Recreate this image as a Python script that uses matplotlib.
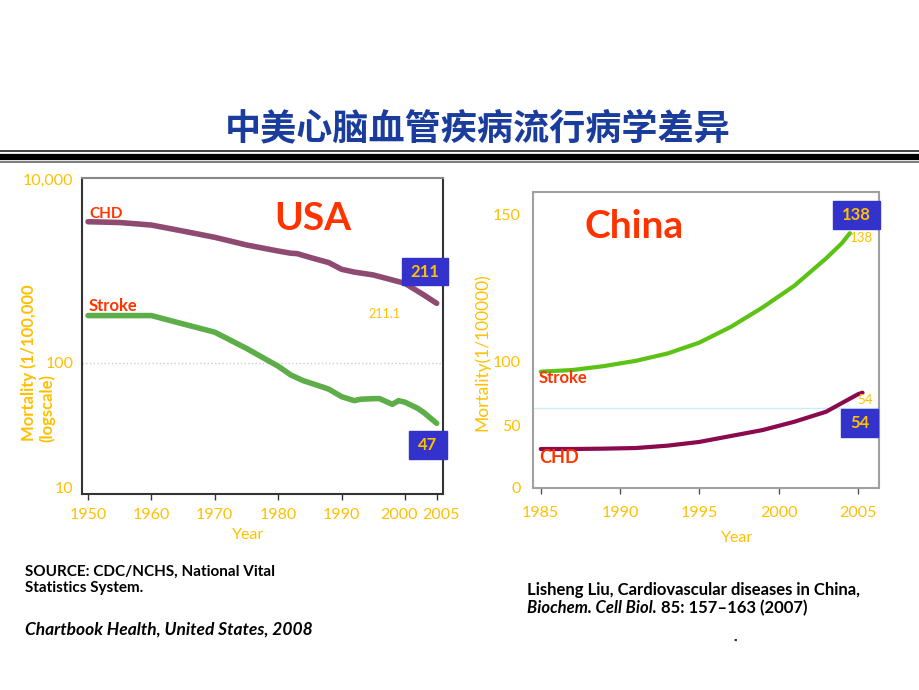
import numpy as np
import matplotlib
matplotlib.use('Agg')
import matplotlib.pyplot as plt
from matplotlib.patches import Rectangle
from matplotlib.transforms import ScaledTranslation

plt.rcParams['font.family'] = ['Lato', 'DejaVu Sans']

# ---- data ----
usa_years = [1950, 1955, 1960, 1965, 1970, 1975, 1980, 1982, 1983, 1985, 1988,
             1990, 1992, 1995, 2000, 2003, 2005]
usa_chd = [586, 580, 562, 521, 482, 438, 406, 395, 393, 375, 351,
           323, 312, 301, 271, 234, 211]
usa_stroke_years = [1950, 1955, 1960, 1965, 1970, 1975, 1980, 1982, 1984, 1985,
                    1987, 1988, 1990, 1992, 1993, 1995, 1996, 1998, 1999, 2000,
                    2002, 2003, 2005]
usa_stroke = [181, 181, 181, 163, 147, 120, 96, 86, 80, 78,
              74, 72, 65.6, 62.4, 63.5, 64, 64, 59.6, 62.4, 61.2,
              56.7, 53.7, 47]
usa_xticks = [1950, 1960, 1970, 1980, 1990, 2000, 2005]

cn_stroke_years = [1985, 1987, 1989, 1991, 1993, 1995, 1997, 1999, 2001, 2003, 2004, 2004.5]
cn_stroke = [92.2, 93.5, 96.6, 100.3, 102.8, 106.5, 111.9, 118.5, 125.9, 135.2, 140.4, 143.8]
cn_chd_years = [1985, 1987, 1989, 1991, 1993, 1995, 1997, 1999, 2001, 2003, 2005, 2005.3]
cn_chd = [31.2, 31.2, 31.5, 32.0, 33.9, 36.9, 41.7, 46.5, 53.1, 60.9, 74.5, 75.8]
cn_xticks = [1985, 1990, 1995, 2000, 2005]
cn_yticks = [0, 50, 100, 150]

W, H = 920, 690
GOLD = '#FFC000'
RED = '#FF3300'
BOXBLUE = '#3333CC'

fig = plt.figure(figsize=(W / 100, H / 100), dpi=100)


def px(x, y):
    return x / W, 1 - y / H


def axes_px(x0, y0, x1, y1):
    return fig.add_axes([x0 / W, 1 - y1 / H, (x1 - x0) / W, (y1 - y0) / H])


def box(x0, y0, x1, y1, txt):
    fig.patches.append(Rectangle(px(x0, y1), (x1 - x0) / W, (y1 - y0) / H,
                                 transform=fig.transFigure, color=BOXBLUE, zorder=5))
    fig.text((x0 + x1) / 2 / W, 1 - (y0 + y1) / 2 / H, txt, color=GOLD,
             fontsize=12, fontweight='bold', ha='center', va='center', zorder=6)


# title + separator
fig.text(*px(478, 129), '中美心脑血管疾病流行病学差异', family=['Noto Sans CJK SC', 'DejaVu Sans'],
         fontsize=26, fontweight='bold', color='#1A3C9C', ha='center', va='center')
for yy, lw, c in [(151, 1.2, '#222222'), (156.5, 4.5, '#000000'), (162, 1.2, '#666666')]:
    fig.add_artist(plt.Line2D([0, 1], [1 - yy / H] * 2, lw=lw, color=c, transform=fig.transFigure))

# ---- USA (log scale) ----
ax1 = axes_px(81.7, 178.3, 443, 494)
ax1.set_yscale('log')
ax1.plot(usa_years, usa_chd, color='#8E4A70', lw=4, solid_capstyle='round', zorder=3)
ax1.plot(usa_stroke_years, usa_stroke, color='#5DAE48', lw=4, solid_capstyle='round', zorder=3)
ax1.set_xlim(1949, 2006)
ax1.set_ylim(19.4, 1009)
ax1.axhline(100, color='#CCCCCC', lw=1, ls=':', zorder=1)
ax1.set_yticks([21, 100, 1000])
ax1.set_yticklabels(['10', '100', '10,000'])
ax1.yaxis.set_minor_locator(matplotlib.ticker.NullLocator())
ax1.set_xticks(usa_xticks)
ax1.tick_params(axis='y', length=0, pad=6, labelsize=11.5, labelcolor=GOLD)
ax1.tick_params(axis='x', length=4, width=1, color='#333333', pad=6, labelsize=11.5, labelcolor=GOLD)
for s in ax1.spines.values():
    s.set_color('#333333')
    s.set_linewidth(1.5)
ax1.spines['top'].set_color('#888888')
# nudge the two crowded year labels apart as in the original
xl = ax1.get_xticklabels()
xl[-2].set_transform(xl[-2].get_transform() + ScaledTranslation(-6 / 100, 0, fig.dpi_scale_trans))
xl[-1].set_transform(xl[-1].get_transform() + ScaledTranslation(4 / 100, 0, fig.dpi_scale_trans))

ax1.text(0.02, 0.886, 'CHD', transform=ax1.transAxes, color=RED, fontsize=11,
         fontweight='bold', va='center')
ax1.text(0.02, 0.596, 'Stroke', transform=ax1.transAxes, color=RED, fontsize=12,
         fontweight='bold', va='center')
fig.text(*px(313, 219), 'USA', color=RED, fontsize=28, fontweight='bold', ha='center', va='center')
fig.text(*px(384, 314), '211.1', color=GOLD, fontsize=9, ha='center', va='center')
box(402, 258, 448, 285, '211')
box(409, 431, 447, 459, '47')

fig.text(*px(29, 363), 'Mortality (1/100,000', rotation=90, color=GOLD, fontsize=12,
         fontweight='bold', ha='center', va='center')
fig.text(*px(47, 441.7), '(logscale)', rotation=90, color=GOLD, fontsize=12,
         fontweight='bold', ha='center', va='bottom')
fig.text(*px(248, 535), 'Year', color=GOLD, fontsize=11.5, ha='center', va='center')

# ---- China (piecewise linear axis as drawn) ----
knots_v = np.array([0, 50, 100, 150, 157.7])
knots_p = np.array([0, 62, 126, 272.7, 295.4])


def fwd(v):
    return np.interp(v, knots_v, knots_p)


def inv(p):
    return np.interp(p, knots_p, knots_v)


ax2 = axes_px(533.3, 192.3, 879, 487.7)
ax2.set_yscale('function', functions=(fwd, inv))
ax2.axhline(63.6, color='#C8EEF8', lw=1, zorder=1)
ax2.plot(cn_stroke_years, cn_stroke, color='#5CC214', lw=3, solid_capstyle='round', zorder=3)
ax2.plot(cn_chd_years, cn_chd, color='#8B0A4E', lw=3, solid_capstyle='round', zorder=3)
ax2.set_xlim(1984.53, 2006.34)
ax2.set_ylim(0, 157.7)
ax2.set_xticks(cn_xticks)
ax2.set_yticks(cn_yticks)
ax2.yaxis.set_minor_locator(matplotlib.ticker.NullLocator())
ax2.tick_params(axis='y', length=0, pad=9, labelsize=11.5, labelcolor=GOLD)
ax2.tick_params(axis='x', length=4, width=1, color='#555555', pad=9, labelsize=11.5, labelcolor=GOLD)
for s in ax2.spines.values():
    s.set_color('#A0A0A0')
    s.set_linewidth(1.5)

fig.text(*px(634, 226), 'China', color=RED, fontsize=28, fontweight='bold', ha='center', va='center')
fig.text(*px(539, 378.3), 'Stroke', color=RED, fontsize=12, fontweight='bold', va='center')
fig.text(*px(539, 457.7), 'CHD', color=RED, fontsize=13, fontweight='bold', va='center')
box(833, 201, 880, 229, '138')
fig.text(*px(861, 238.3), '138', color=GOLD, fontsize=9.5, ha='center', va='center')
box(841, 409, 878, 437, '54')
fig.text(*px(865, 400), '54', color=GOLD, fontsize=9.5, ha='center', va='center')
fig.text(*px(482, 352), 'Mortality(1/100000)', rotation=90, color=GOLD, fontsize=12.5,
         ha='center', va='center')
fig.text(*px(737, 538), 'Year', color=GOLD, fontsize=11.5, ha='center', va='center')

# ---- sources ----
fig.text(*px(25, 571.7), 'SOURCE: CDC/NCHS, National Vital', fontsize=11, fontweight='bold', va='center')
fig.text(*px(25, 588.3), 'Statistics System.', fontsize=11, fontweight='bold', va='center')
fig.text(*px(25, 629.3), 'Chartbook Health, United States, 2008', fontsize=12.5, fontweight='bold',
         fontstyle='italic', va='center')
fig.text(*px(527, 590), 'Lisheng Liu, Cardiovascular diseases in China,', fontsize=12,
         fontweight='bold', va='center')
t_it = fig.text(*px(527, 608), 'Biochem. Cell Biol.', fontsize=12, fontweight='bold',
                fontstyle='italic', va='center')
r = fig.canvas.get_renderer()
bb = t_it.get_window_extent(r)
fig.text(bb.x1 / W, 1 - 608 / H, ' 85: 157\u2013163 (2007)', fontsize=12, fontweight='bold',
         va='center')
fig.text(*px(735, 640), '\u25AA', color='#1A1A8C', fontsize=6, ha='center', va='center')

fig.savefig('out.png', dpi=100)
